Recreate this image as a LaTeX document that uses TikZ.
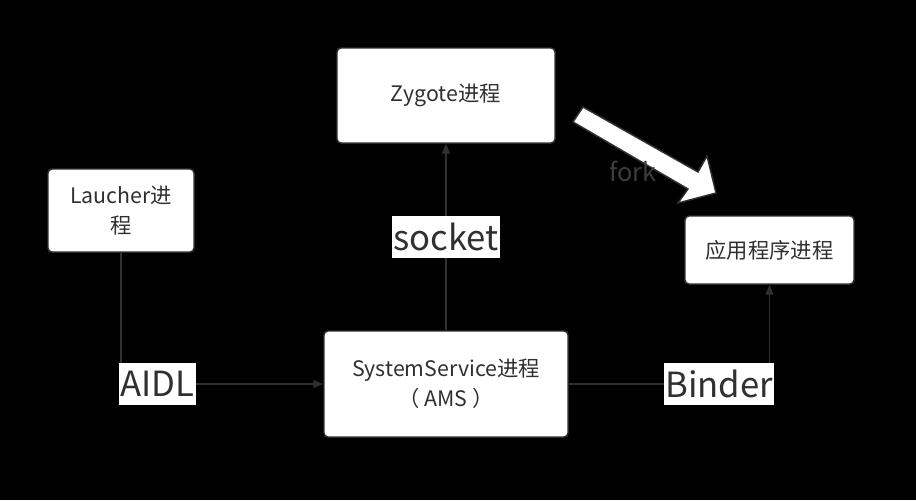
\documentclass[tikz,border=0pt]{standalone}
\usepackage{fontspec}
\setmainfont{Noto Sans CJK SC}
\usepackage{xcolor}
\usetikzlibrary{arrows.meta}
\definecolor{inkgray}{HTML}{303030}
\definecolor{forkgray}{HTML}{3C3C3C}

\begin{document}
\begin{tikzpicture}[x=0.75pt,y=-0.75pt,>={Triangle[length=7.5pt,width=6pt]},
  proc/.style={draw=inkgray,line width=1.1pt,fill=white,rounded corners=3pt,text=inkgray,
    font=\fontsize{16}{22.5}\selectfont,align=center,inner sep=0pt},
  link/.style={inkgray,line width=1.1pt},
  tag/.style={fill=white,text=inkgray,font=\fontsize{26}{30}\selectfont,
    inner xsep=1pt,inner ysep=0pt,minimum height=31.5pt}]
  \fill[black] (0,0) rectangle (916,500);
  % process boxes
  \node[proc,minimum width=163.5pt,minimum height=71.25pt] (zygote) at (446,95.5) {Zygote进程};
  \node[proc,minimum width=109.5pt,minimum height=62.25pt] (launcher) at (121,210.5) {Laucher进\\程};
  \node[proc,minimum width=126.75pt,minimum height=51pt] (app) at (769.5,250) {应用程序进程};
  \node[proc,minimum width=183pt,minimum height=79.5pt] (sys) at (446,384) {SystemService进程\\（ AMS ）};
  % links
  \draw[link,->] (launcher) |- node[tag,pos=0.59]{AIDL} (sys);
  \draw[link,->] (sys) -- node[tag]{socket} (zygote);
  \draw[link,->] (sys) -| node[tag,pos=0.375]{Binder} (app);
  % fork arrow
  \draw[inkgray,line width=1.1pt,fill=white] (573,122) -- (583,107) -- (698,172) -- (707,156)
    -- (716,193) -- (678,203) -- (688,189) -- cycle;
  \node[text=forkgray,font=\fontsize{19}{22}\selectfont] (fork) at (633,171) {fork};
\end{tikzpicture}
\end{document}
